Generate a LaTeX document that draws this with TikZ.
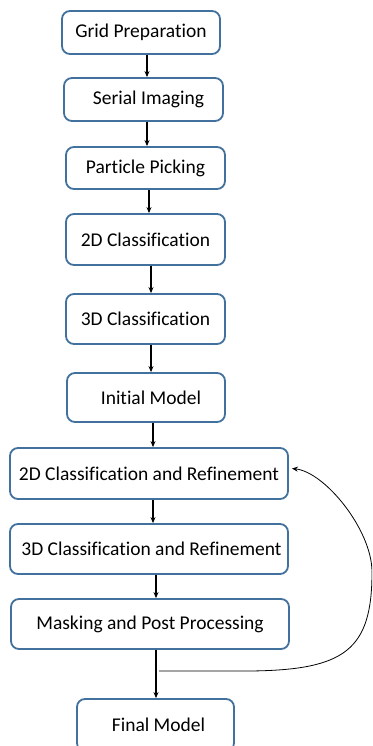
\documentclass[tikz,border=0pt]{standalone}
\usepackage{fontspec}
\setmainfont[Ligatures=NoCommon]{Carlito}
\usepackage{tikz}
\usetikzlibrary{arrows.meta,calc,positioning}
\definecolor{Stahl}{RGB}{65,113,156}

\begin{document}
\begin{tikzpicture}[x=1pt,y=-1pt,
  stage/.style={draw=Stahl,line width=1.8pt,rounded corners=8pt,fill=white,
    font=\fontsize{19.5}{22}\selectfont,inner sep=0pt},
  arr/.style={-{Stealth[length=6pt,width=5pt]},line width=1.1pt}]
\useasboundingbox (0,0) rectangle (372,746);
\clip (0,0) rectangle (372,746);
%
\node[stage,minimum width=158pt,minimum height=43pt] (grid)    at (141,32.5)  {Grid Preparation};
\node[stage,minimum width=159pt,minimum height=43pt] (serial)  at (143.5,99.5) {\hspace{10pt}Serial Imaging};
\node[stage,minimum width=159pt,minimum height=42pt] (picking) at (145.5,168) {Particle Picking};
\node[stage,minimum width=159pt,minimum height=51pt] (class2d) at (145.5,239.5) {2D Classification};
\node[stage,minimum width=159pt,minimum height=50pt] (class3d) at (145.5,319) {3D Classification};
\node[stage,minimum width=158pt,minimum height=49pt] (initial) at (146,397.5) {\hspace{10pt}Initial Model};
\node[stage,minimum width=278pt,minimum height=51pt] (refine2d) at (149,473.5) {2D Classification and Refinement};
\node[stage,minimum width=278pt,minimum height=50pt] (refine3d) at (149,549) {\hspace{5pt}3D Classification and Refinement};
\node[stage,minimum width=278pt,minimum height=50pt] (mask)    at (150,624) {Masking and Post Processing};
\node[stage,minimum width=157pt,minimum height=52pt] (final)   at (155.5,725) {\hspace{6pt}Final Model};
%
\foreach \a/\b/\s/\t in {grid/serial/6/3.5, serial/picking/3.5/1.5, picking/class2d/3.5/3.5,
    class2d/class3d/5.5/5.5, class3d/initial/5.5/5, initial/refine2d/7/4,
    refine2d/refine3d/4/4, refine3d/mask/7/6, mask/final/6/0.5}
  \draw[arr] ([xshift=\s pt]\a.south) -- ([xshift=\t pt]\b.north);
%
% loop back to the 2D refinement
\coordinate (split) at (159,671);
\draw[-{Stealth[length=6pt,width=5pt]},line width=0.8pt] (split) -- (250,671)
  .. controls (345,670) and (372,650) .. (372,572)
  .. controls (372,530) and (325,472) .. ([shift={(3,-5)}]refine2d.east);
%
\end{tikzpicture}
\end{document}
